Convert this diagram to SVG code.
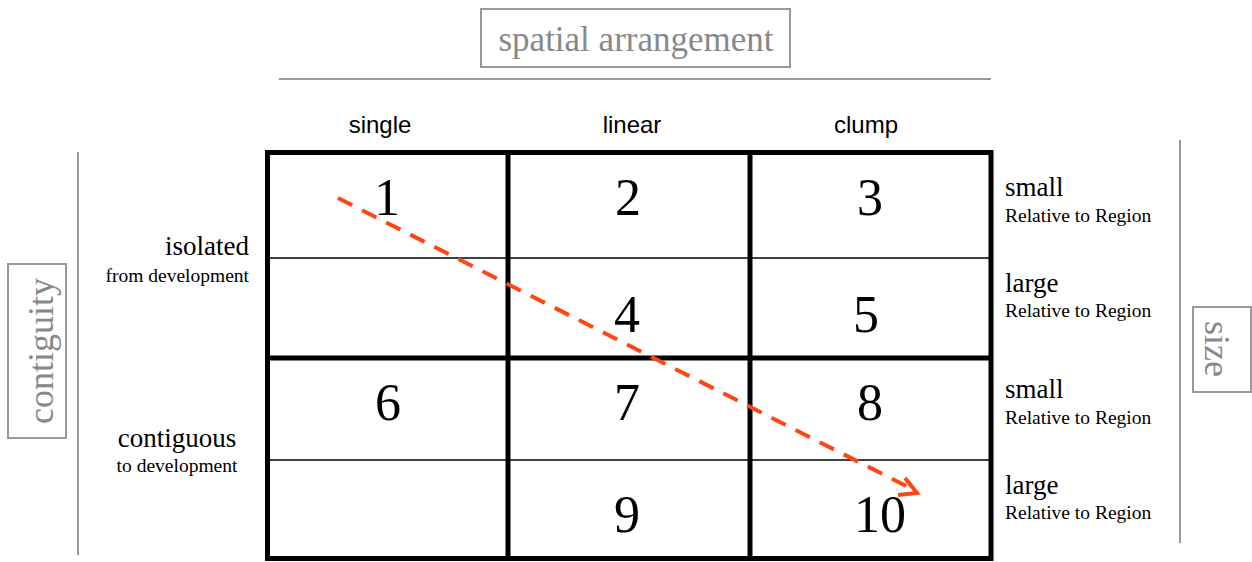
<svg xmlns="http://www.w3.org/2000/svg" width="1252" height="562" viewBox="0 0 1252 562">
<style>
.gbox{fill:none;stroke:#999;stroke-width:2}
.gline{stroke:#999;stroke-width:2}
.gt{font-family:"Liberation Serif",serif;fill:#888}
.thick{stroke:#000;stroke-width:5;fill:none}
.thin{stroke:#000;stroke-width:1.5}
.num{font-family:"Liberation Serif",serif;font-size:52px;fill:#000;text-anchor:middle}
.hdr{font-family:"Liberation Sans",sans-serif;font-size:24px;fill:#000;text-anchor:middle}
.lab{font-family:"Liberation Serif",serif;font-size:27px;fill:#000}
.sub{font-family:"Liberation Serif",serif;font-size:19.5px;fill:#000}
.arrow{fill:none;stroke:#FF4513;stroke-width:4}
</style>
<rect width="1252" height="562" fill="#fff"/>
<g id="title">
<rect class="gbox" x="481" y="9" width="309" height="58"/>
<text class="gt" x="636" y="51" font-size="35" text-anchor="middle">spatial arrangement</text>
<line class="gline" x1="279" y1="79" x2="991" y2="79"/>
</g>
<g id="contiguity">
<line class="gline" x1="78" y1="152" x2="78" y2="555"/>
<rect class="gbox" x="8" y="264" width="58" height="174"/>
<text class="gt" transform="translate(53,351) rotate(-90)" font-size="36" text-anchor="middle">contiguity</text>
</g>
<g id="size">
<line class="gline" x1="1180" y1="140" x2="1180" y2="543"/>
<rect class="gbox" x="1193" y="307" width="58" height="85"/>
<text class="gt" transform="translate(1205,349) rotate(90)" font-size="36" text-anchor="middle">size</text>
</g>
<g id="headers">
<text class="hdr" x="380" y="133">single</text>
<text class="hdr" x="632" y="133">linear</text>
<text class="hdr" x="866" y="133">clump</text>
</g>
<g id="rowlabels">
<text class="lab" x="249" y="255" text-anchor="end">isolated</text>
<text class="sub" x="249" y="282" text-anchor="end">from development</text>
<text class="lab" x="177" y="447" text-anchor="middle">contiguous</text>
<text class="sub" x="177" y="472" text-anchor="middle">to development</text>
</g>
<g id="sizelabels">
<text class="lab" x="1005" y="196">small</text>
<text class="sub" x="1005" y="222">Relative to Region</text>
<text class="lab" x="1005" y="292">large</text>
<text class="sub" x="1005" y="317">Relative to Region</text>
<text class="lab" x="1005" y="398">small</text>
<text class="sub" x="1005" y="424">Relative to Region</text>
<text class="lab" x="1005" y="494">large</text>
<text class="sub" x="1005" y="519">Relative to Region</text>
</g>
<g id="grid">
<line class="thin" x1="267" y1="258" x2="991" y2="258"/>
<line class="thin" x1="267" y1="460" x2="991" y2="460"/>
<rect class="thick" x="267.5" y="152.5" width="723.5" height="406"/>
<line class="thick" x1="508" y1="152" x2="508" y2="559"/>
<line class="thick" x1="750" y1="152" x2="750" y2="559"/>
<line class="thick" x1="267" y1="358" x2="991" y2="358"/>
</g>
<g id="cell1"><text class="num" x="387" y="215">1</text></g>
<g id="cell2"><text class="num" x="628" y="215">2</text></g>
<g id="cell3"><text class="num" x="870" y="215">3</text></g>
<g id="cell4"><text class="num" x="627" y="332">4</text></g>
<g id="cell5"><text class="num" x="866" y="332">5</text></g>
<g id="cell6"><text class="num" x="388" y="420">6</text></g>
<g id="cell7"><text class="num" x="627" y="420">7</text></g>
<g id="cell8"><text class="num" x="870" y="420">8</text></g>
<g id="cell9"><text class="num" x="627" y="532">9</text></g>
<g id="cell10"><text class="num" x="880" y="532">10</text></g>
<g id="connectors">
<line class="arrow" x1="338" y1="198" x2="914" y2="490" stroke-dasharray="16,11"/>
<path class="arrow" d="M905,478 L917,493 L898,495"/>
</g>
</svg>
